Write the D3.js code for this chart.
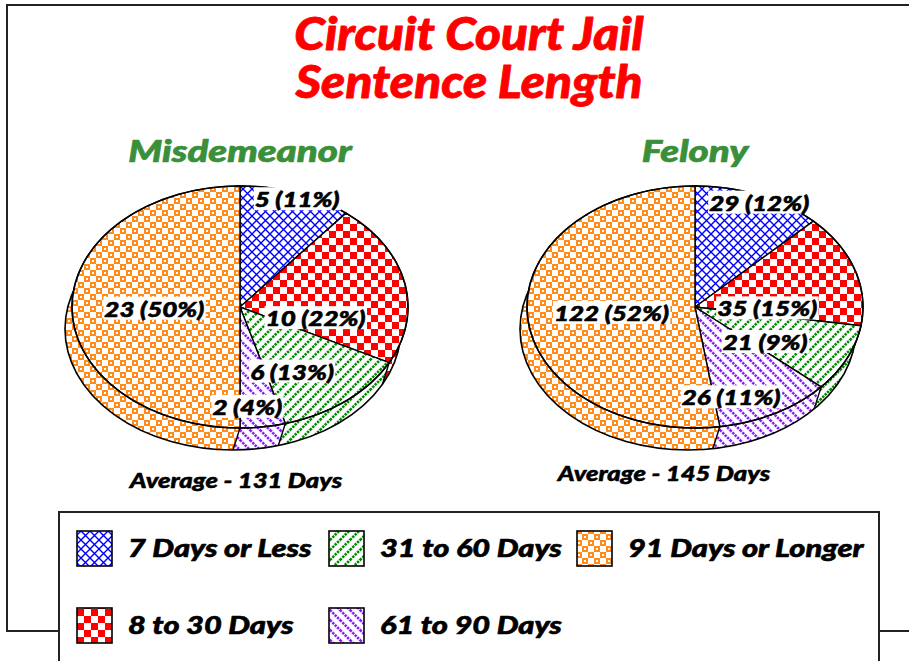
<!DOCTYPE html>
<html>
<head>
<meta charset="utf-8">
<script src="https://cdn.jsdelivr.net/npm/d3@7"></script>
<style>
  html, body { margin: 0; padding: 0; background: #fff; }
  svg { display: block; }
  text { font-family: "Lato", "Open Sans", sans-serif; font-weight: 900; font-style: italic; }
</style>
</head>
<body>
<svg id="chart" width="909" height="661"></svg>
<script>
// ---- data ----
const categories = ["7 Days or Less", "8 to 30 Days", "31 to 60 Days", "61 to 90 Days", "91 Days or Longer"];
const misdemeanorCounts = [5, 10, 6, 2, 23];
const felonyCounts = [29, 35, 21, 26, 122];
const averageDays = [131, 145];
const pieTitles = ["Misdemeanor", "Felony"];
const titleLines = ["Circuit Court Jail", "Sentence Length"];

// ---- layout / style ----
const W = 909, H = 661;
const colors = ["#0000ff", "#ff0000", "#008a00", "#8a1cff", "#ff8c1a"];
const patternIds = ["pat-cross", "pat-check", "pat-diagR", "pat-diagL", "pat-box"];
const pieLayout = [
  { cx: 240, cy: 307, avgY: 488, avgX: 236 },
  { cx: 695, cy: 307, avgY: 481, avgX: 664 }
];
const rx = 168, ry = 121;         // top ellipse radii
const depth = { dx: -7, dy: 22 }; // oblique extrusion of the pie body
// label anchors: [angle in degrees clockwise from 12 o'clock, fraction of radius]
const labelSpots = [
  [[21, 0.95], [102, 0.46], [150, 0.62], [177, 0.83], [268, 0.51]],
  [[24, 0.94], [92, 0.43], [125, 0.51], [164, 0.78], [264, 0.50]]
];

const svg = d3.select("#chart");
const defs = svg.append("defs");

// stretch a text horizontally and thicken its strokes for a heavy, wide face
function heavy(sel, factor, weight = 0.5) {
  const w = sel.node().getComputedTextLength();
  sel.attr("textLength", w * factor).attr("lengthAdjust", "spacingAndGlyphs")
    .attr("stroke", sel.attr("fill")).attr("stroke-width", weight).attr("stroke-linejoin", "round");
  return sel;
}

// ---- fill patterns ----
function pattern(id, w, h) {
  const p = defs.append("pattern").attr("id", id)
    .attr("patternUnits", "userSpaceOnUse").attr("width", w).attr("height", h);
  p.append("rect").attr("width", w).attr("height", h).attr("fill", "#fff");
  return p;
}
// blue diagonal crosshatch
pattern("pat-cross", 9, 9).append("path")
  .attr("d", "M0,0L9,9M9,0L0,9")
  .attr("stroke", colors[0]).attr("stroke-width", 1.4).attr("fill", "none");
// red checkerboard
{
  const p = pattern("pat-check", 14, 14);
  p.append("rect").attr("x", 0).attr("y", 0).attr("width", 7).attr("height", 7).attr("fill", colors[1]);
  p.append("rect").attr("x", 7).attr("y", 7).attr("width", 7).attr("height", 7).attr("fill", colors[1]);
}
// green dotted forward diagonals
pattern("pat-diagR", 10, 10).append("path")
  .attr("d", "M-3,3L3,-3M0,10L10,0M7,13L13,7")
  .attr("stroke", colors[2]).attr("stroke-width", 2.6).attr("stroke-dasharray", "2.4,1").attr("fill", "none");
// purple dotted back diagonals
pattern("pat-diagL", 10, 10).append("path")
  .attr("d", "M-3,7L3,13M0,0L10,10M7,-3L13,3")
  .attr("stroke", colors[3]).attr("stroke-width", 2.6).attr("stroke-dasharray", "2.4,1").attr("fill", "none");
// orange checker of hollow squares
{
  const p = pattern("pat-box", 12, 12);
  [[0, 0], [6, 6]].forEach(([x, y]) => {
    p.append("rect").attr("x", x).attr("y", y).attr("width", 6).attr("height", 6).attr("fill", colors[4]);
    p.append("rect").attr("x", x + 2).attr("y", y + 2).attr("width", 2).attr("height", 2).attr("fill", "#fff");
  });
}

// ---- frame ----
svg.append("path")
  .attr("d", `M${W},5H7V631H59M879,631H${W}`)
  .attr("fill", "none").attr("stroke", "#222").attr("stroke-width", 2);

// ---- title ----
titleLines.forEach((t, i) => {
  heavy(svg.append("text").attr("x", 469).attr("y", 50 + i * 48)
    .attr("text-anchor", "middle").attr("fill", "#ff0000").attr("font-size", 45).text(t), 1.1, 0.8);
});

// ---- pies ----
const pie = d3.pie().sort(null).startAngle(0).endAngle(2 * Math.PI);
const ex = (cx, a, f = 1) => cx + rx * f * Math.sin(a);
const ey = (cy, a, f = 1) => cy - ry * f * Math.cos(a);

function arcPoints(cx, cy, a0, a1, off) {
  const n = Math.max(2, Math.ceil((a1 - a0) / 0.02));
  const pts = [];
  for (let i = 0; i <= n; i++) {
    const a = a0 + (a1 - a0) * i / n;
    pts.push([ex(cx, a) + off.dx, ey(cy, a) + off.dy]);
  }
  return pts;
}
const line = d3.line();

[misdemeanorCounts, felonyCounts].forEach((counts, k) => {
  const { cx, cy } = pieLayout[k];
  const total = d3.sum(counts);
  const arcs = pie(counts);
  const g = svg.append("g");
  const zero = { dx: 0, dy: 0 };

  // body sides: band between the top rim and its extruded copy
  arcs.forEach((d, i) => {
    const top = arcPoints(cx, cy, d.startAngle, d.endAngle, zero);
    const bot = arcPoints(cx, cy, d.startAngle, d.endAngle, depth).reverse();
    g.append("path").attr("d", line(top.concat(bot)) + "Z")
      .attr("fill", `url(#${patternIds[i]})`).attr("stroke", "none");
  });
  // lower outline of the body
  g.append("ellipse").attr("cx", cx + depth.dx).attr("cy", cy + depth.dy)
    .attr("rx", rx).attr("ry", ry).attr("fill", "none").attr("stroke", "#000").attr("stroke-width", 1.6);
  // slice seams on the body
  arcs.forEach(d => {
    const a = d.startAngle;
    g.append("line")
      .attr("x1", ex(cx, a)).attr("y1", ey(cy, a))
      .attr("x2", ex(cx, a) + depth.dx).attr("y2", ey(cy, a) + depth.dy)
      .attr("stroke", "#000").attr("stroke-width", 1.4);
  });
  // top faces
  arcs.forEach((d, i) => {
    const pts = [[cx, cy]].concat(arcPoints(cx, cy, d.startAngle, d.endAngle, zero));
    g.append("path").attr("d", line(pts) + "Z")
      .attr("fill", `url(#${patternIds[i]})`)
      .attr("stroke", "#000").attr("stroke-width", 1.4).attr("stroke-linejoin", "round");
  });
  g.append("ellipse").attr("cx", cx).attr("cy", cy).attr("rx", rx).attr("ry", ry)
    .attr("fill", "none").attr("stroke", "#000").attr("stroke-width", 1.6);

  // value labels on white chips
  arcs.forEach((d, i) => {
    const [deg, f] = labelSpots[k][i];
    const a = deg * Math.PI / 180;
    const pct = Math.round(d.value / total * 100);
    const t = g.append("text")
      .attr("x", ex(cx, a, f)).attr("y", ey(cy, a, f)).attr("dy", "0.36em")
      .attr("text-anchor", "middle").attr("font-size", 21).attr("fill", "#000")
      .text(`${d.value} (${pct}%)`);
    heavy(t, 1.24, 0.6);
    const b = t.node().getBBox();
    g.insert("rect", () => t.node())
      .attr("x", b.x - 1).attr("y", b.y + 1).attr("width", b.width + 2).attr("height", b.height - 2)
      .attr("fill", "#fff");
  });

  // pie heading and average
  heavy(svg.append("text").attr("x", cx).attr("y", 162).attr("text-anchor", "middle")
    .attr("font-size", 31).attr("fill", "#3a8f3a").text(pieTitles[k]), 1.24, 0.7);
  heavy(svg.append("text").attr("x", pieLayout[k].avgX).attr("y", pieLayout[k].avgY).attr("text-anchor", "middle")
    .attr("font-size", 20).attr("fill", "#000").text(`Average - ${averageDays[k]} Days`), 1.28, 0.5);
});

// ---- legend ----
svg.append("rect").attr("x", 59).attr("y", 512).attr("width", 820).attr("height", 160)
  .attr("fill", "#fff").attr("stroke", "#222").attr("stroke-width", 2);
const legendCols = [77, 329, 577];
const legendRows = [531, 608];
categories.forEach((c, i) => {
  // column-major order: two rows per column
  const col = Math.floor(i / 2), row = i % 2;
  const x = legendCols[col], y = legendRows[row];
  svg.append("rect").attr("x", x).attr("y", y).attr("width", 35).attr("height", 35)
    .attr("fill", `url(#${patternIds[i]})`).attr("stroke", "#000").attr("stroke-width", 1.6);
  heavy(svg.append("text").attr("x", x + 51).attr("y", y + 26).attr("font-size", 25)
    .attr("fill", "#000").text(c), 1.23, 0.6);
});
</script>
</body>
</html>
